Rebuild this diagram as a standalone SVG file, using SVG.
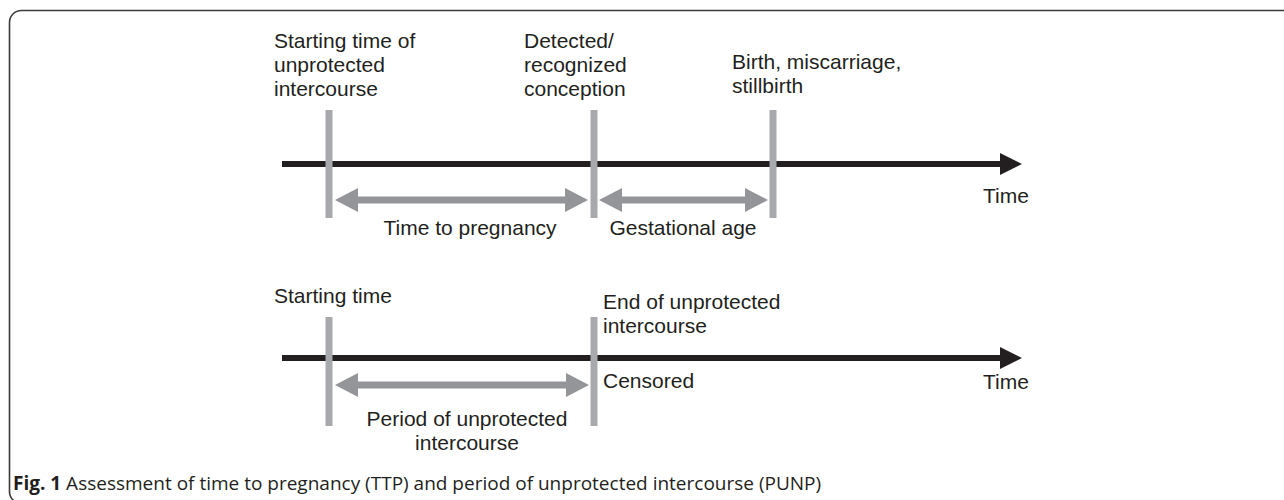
<svg xmlns="http://www.w3.org/2000/svg" width="1284" height="500" viewBox="0 0 1284 500">
<style>
.lbl{font-family:"Liberation Sans",Arial,sans-serif;font-size:21px;fill:#231f20}
.mid{text-anchor:middle}
.tick{fill:#a7a9ac}
.span{fill:#939598}
.axis{fill:#231f20}
.cap{font-family:"Open Sans","Noto Sans",sans-serif;font-size:19px;fill:#231f20}
</style>
<rect x="9.5" y="10.5" width="1300" height="493" rx="12" ry="12" fill="#fff" stroke="#3a3a3a" stroke-width="1.6"/>
<g id="connectors">
  <polygon class="axis" points="282,161 1000,161 1000,153 1022,164 1000,175 1000,167 282,167"/>
  <polygon class="axis" points="282,355 1000,355 1000,347 1022,358 1000,369 1000,361 282,361"/>
  <polygon class="span" points="335,200 358,188 358,196.5 565,196.5 565,188 588,200 565,212 565,203.5 358,203.5 358,212"/>
  <polygon class="span" points="599,200 622,188 622,196.5 745,196.5 745,188 768,200 745,212 745,203.5 622,203.5 622,212"/>
  <polygon class="span" points="335,385 358,373 358,381.5 566,381.5 566,373 589,385 566,397 566,388.5 358,388.5 358,397"/>
</g>
<g id="start1">
  <rect class="tick" x="325.5" y="110" width="7" height="108"/>
  <text class="lbl" x="274" y="48">Starting time of</text>
  <text class="lbl" x="274" y="72">unprotected</text>
  <text class="lbl" x="274" y="96">intercourse</text>
</g>
<g id="conception">
  <rect class="tick" x="590.5" y="110" width="7" height="108"/>
  <text class="lbl" x="524" y="48">Detected/</text>
  <text class="lbl" x="524" y="72">recognized</text>
  <text class="lbl" x="524" y="96">conception</text>
</g>
<g id="birth">
  <rect class="tick" x="769.5" y="110" width="7" height="108"/>
  <text class="lbl" x="732" y="69">Birth, miscarriage,</text>
  <text class="lbl" x="732" y="93">stillbirth</text>
</g>
<g id="time1"><text class="lbl" x="983" y="203">Time</text></g>
<g id="ttp"><text class="lbl mid" x="470" y="235">Time to pregnancy</text></g>
<g id="ga"><text class="lbl mid" x="683" y="235">Gestational age</text></g>
<g id="start2">
  <rect class="tick" x="325.5" y="317" width="7" height="109"/>
  <text class="lbl" x="274" y="303">Starting time</text>
</g>
<g id="end2">
  <rect class="tick" x="590.5" y="317" width="7" height="109"/>
  <text class="lbl" x="603" y="309">End of unprotected</text>
  <text class="lbl" x="603" y="333">intercourse</text>
  <text class="lbl" x="603" y="388">Censored</text>
</g>
<g id="time2"><text class="lbl" x="983" y="389">Time</text></g>
<g id="punp">
  <text class="lbl mid" x="467" y="426">Period of unprotected</text>
  <text class="lbl mid" x="467" y="450">intercourse</text>
</g>
<g id="caption"><text class="cap" x="13" y="490"><tspan font-weight="bold">Fig. 1</tspan> Assessment of time to pregnancy (TTP) and period of unprotected intercourse (PUNP)</text></g>
</svg>
